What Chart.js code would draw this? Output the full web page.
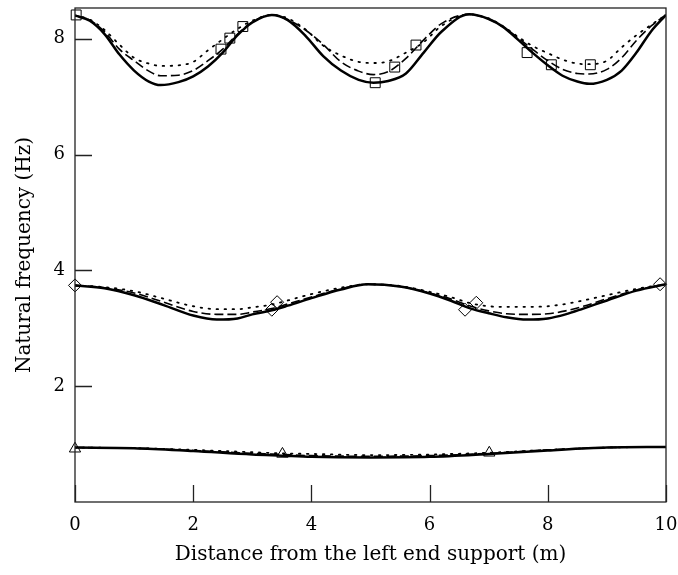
<!DOCTYPE html>
<html>
<head>
<meta charset="utf-8">
<script src="https://cdn.jsdelivr.net/npm/chart.js@4.4.1/dist/chart.umd.min.js"></script>
<style>
  html, body { margin: 0; padding: 0; background: #fff; }
</style>
</head>
<body>
<canvas id="freqChart" width="678" height="575"></canvas>
<script>
// tick positions
const xTicks = [0, 2, 4, 6, 8, 10];
const yTicks = [2, 4, 6, 8];

// third mode (top group)
const xMode3 = [0, 0.25, 0.5, 0.75, 1, 1.25, 1.45, 1.75, 2, 2.25, 2.5, 2.75, 3, 3.33, 3.6, 3.9, 4.2, 4.5, 4.8, 5.05, 5.3, 5.6, 5.9, 6.2, 6.67, 7, 7.25, 7.5, 7.75, 8, 8.25, 8.5, 8.7, 9, 9.25, 9.5, 9.75, 10];
const mode3Solid = [8.40, 8.31, 8.08, 7.73, 7.45, 7.26, 7.20, 7.25, 7.35, 7.52, 7.76, 8.06, 8.28, 8.41, 8.32, 8.05, 7.70, 7.45, 7.29, 7.24, 7.27, 7.40, 7.76, 8.12, 8.42, 8.34, 8.20, 7.98, 7.75, 7.54, 7.36, 7.26, 7.22, 7.29, 7.45, 7.76, 8.13, 8.41];
const mode3Dashed = [8.40, 8.32, 8.12, 7.82, 7.62, 7.44, 7.36, 7.37, 7.45, 7.62, 7.82, 8.08, 8.29, 8.41, 8.33, 8.15, 7.90, 7.60, 7.44, 7.38, 7.43, 7.66, 7.98, 8.26, 8.42, 8.34, 8.20, 8.01, 7.81, 7.62, 7.47, 7.40, 7.39, 7.47, 7.67, 7.97, 8.22, 8.41];
const mode3Dotted = [8.40, 8.33, 8.15, 7.90, 7.67, 7.57, 7.53, 7.54, 7.60, 7.80, 7.99, 8.17, 8.31, 8.41, 8.35, 8.16, 7.88, 7.71, 7.60, 7.58, 7.61, 7.76, 7.94, 8.22, 8.42, 8.35, 8.21, 8.03, 7.87, 7.75, 7.64, 7.57, 7.56, 7.62, 7.85, 8.06, 8.24, 8.41];

// second mode (middle group)
const xMode2 = [0, 0.5, 1, 1.5, 2, 2.4, 2.75, 3, 3.33, 3.6, 4, 4.5, 4.95, 5.5, 6, 6.35, 6.7, 7, 7.3, 7.65, 8, 8.3, 8.6, 9, 9.5, 10];
const mode2Solid = [3.74, 3.69, 3.57, 3.40, 3.22, 3.15, 3.17, 3.24, 3.31, 3.39, 3.52, 3.67, 3.76, 3.72, 3.60, 3.48, 3.34, 3.26, 3.19, 3.15, 3.17, 3.24, 3.34, 3.48, 3.65, 3.76];
const mode2Dashed = [3.74, 3.70, 3.61, 3.45, 3.29, 3.24, 3.24, 3.28, 3.34, 3.42, 3.54, 3.68, 3.76, 3.72, 3.61, 3.51, 3.38, 3.30, 3.25, 3.24, 3.25, 3.30, 3.38, 3.51, 3.66, 3.76];
const mode2Dotted = [3.74, 3.71, 3.64, 3.51, 3.38, 3.33, 3.33, 3.36, 3.41, 3.48, 3.59, 3.70, 3.76, 3.73, 3.63, 3.54, 3.43, 3.38, 3.37, 3.37, 3.38, 3.42, 3.48, 3.57, 3.68, 3.76];

// first mode (bottom group)
const xMode1 = [0, 1, 2, 3, 3.5, 4, 5, 6, 7, 8, 9, 10];
const mode1Solid = [0.94, 0.93, 0.88, 0.82, 0.80, 0.78, 0.77, 0.78, 0.83, 0.89, 0.94, 0.95];
const mode1Dashed = [0.94, 0.93, 0.89, 0.84, 0.82, 0.80, 0.79, 0.80, 0.84, 0.90, 0.94, 0.95];
const mode1Dotted = [0.94, 0.93, 0.90, 0.86, 0.84, 0.83, 0.81, 0.82, 0.85, 0.90, 0.94, 0.95];

// measured points
const squareX = [0.02, 2.47, 2.62, 2.84, 5.08, 5.41, 5.77, 7.65, 8.06, 8.72];
const squareY = [8.41, 7.82, 8.01, 8.21, 7.24, 7.51, 7.89, 7.76, 7.55, 7.55];
const diamondX = [0, 3.33, 3.42, 6.6, 6.79, 9.9];
const diamondY = [3.74, 3.32, 3.45, 3.32, 3.44, 3.76];
const triangleX = [0, 3.51, 7.01];
const triangleY = [0.92, 0.83, 0.85];

function pts(xs, ys) {
    return xs.map((x, i) => ({ x: x, y: ys[i] }));
}

function curve(xs, ys, kind) {
    let ds = {
        data: pts(xs, ys),
        showLine: true,
        borderColor: '#000',
        pointRadius: 0,
        cubicInterpolationMode: 'monotone',
        fill: false
    };
    if (kind === 'solid') {
        ds.borderWidth = 2.5;
    } else if (kind === 'dashed') {
        ds.borderWidth = 1.6;
        ds.borderDash = [9, 4];
    } else {
        ds.borderWidth = 1.8;
        ds.borderDash = [1.5, 6.5];
        ds.borderCapStyle = 'round';
    }
    return ds;
}

function marks(xs, ys, style, r) {
    return {
        data: pts(xs, ys),
        showLine: false,
        pointStyle: style,
        pointRadius: r,
        pointBorderColor: '#000',
        pointBackgroundColor: 'rgba(0,0,0,0)',
        pointBorderWidth: 1,
        clip: false
    };
}

// box round the plot and inward tick marks
const frame = {
    id: 'frame',
    afterDatasetsDraw(chart) {
        const { ctx, chartArea: a, scales: { x, y } } = chart;
        ctx.save();
        ctx.strokeStyle = '#222';
        ctx.lineWidth = 1.3;
        ctx.strokeRect(a.left, a.top, a.right - a.left, a.bottom - a.top);
        ctx.beginPath();
        x.ticks.forEach(t => {
            const px = Math.round(x.getPixelForValue(t.value)) + 0.5;
            ctx.moveTo(px, a.bottom);
            ctx.lineTo(px, a.bottom - 17);
        });
        y.ticks.forEach(t => {
            const py = Math.round(y.getPixelForValue(t.value)) + 0.5;
            ctx.moveTo(a.left, py);
            ctx.lineTo(a.left + 17, py);
        });
        ctx.stroke();
        ctx.restore();
    }
};

const serif = "'DejaVu Serif', serif";

new Chart(document.getElementById('freqChart'), {
    type: 'scatter',
    data: {
        datasets: [
            marks(squareX, squareY, 'rect', 7),
            marks(diamondX, diamondY, 'rectRot', 6.5),
            marks(triangleX, triangleY, 'triangle', 6.5),
            curve(xMode3, mode3Solid, 'solid'),
            curve(xMode3, mode3Dashed, 'dashed'),
            curve(xMode3, mode3Dotted, 'dotted'),
            curve(xMode2, mode2Solid, 'solid'),
            curve(xMode2, mode2Dashed, 'dashed'),
            curve(xMode2, mode2Dotted, 'dotted'),
            curve(xMode1, mode1Solid, 'solid'),
            curve(xMode1, mode1Dashed, 'dashed'),
            curve(xMode1, mode1Dotted, 'dotted')
        ]
    },
    options: {
        responsive: false,
        devicePixelRatio: 1,
        animation: false,
        layout: { padding: { top: 7, right: 12, left: 0, bottom: 0 } },
        plugins: { legend: { display: false }, tooltip: { enabled: false } },
        scales: {
            x: {
                type: 'linear',
                min: 0,
                max: 10,
                afterBuildTicks: s => { s.ticks = xTicks.map(v => ({ value: v })); },
                afterFit: s => { s.height = 73; s.paddingLeft = 0; s.paddingRight = 0; },
                grid: { display: false, drawTicks: false },
                border: { display: false },
                ticks: { color: '#000', font: { family: serif, size: 18 }, padding: 13 },
                title: {
                    display: true,
                    text: 'Distance from the left end support (m)',
                    color: '#000',
                    font: { family: serif, size: 20 },
                    padding: { top: 0, bottom: 8 }
                }
            },
            y: {
                type: 'linear',
                min: 0,
                max: 8.53,
                afterBuildTicks: s => { s.ticks = yTicks.map(v => ({ value: v })); },
                afterFit: s => { s.width = 75; s.paddingTop = 0; s.paddingBottom = 0; },
                grid: { display: false, drawTicks: false },
                border: { display: false },
                ticks: { color: '#000', font: { family: serif, size: 18 }, padding: 10 },
                title: {
                    display: true,
                    text: 'Natural frequency (Hz)',
                    color: '#000',
                    font: { family: serif, size: 20 },
                    padding: { top: 13, bottom: 0 }
                }
            }
        }
    },
    plugins: [frame]
});
</script>
</body>
</html>
